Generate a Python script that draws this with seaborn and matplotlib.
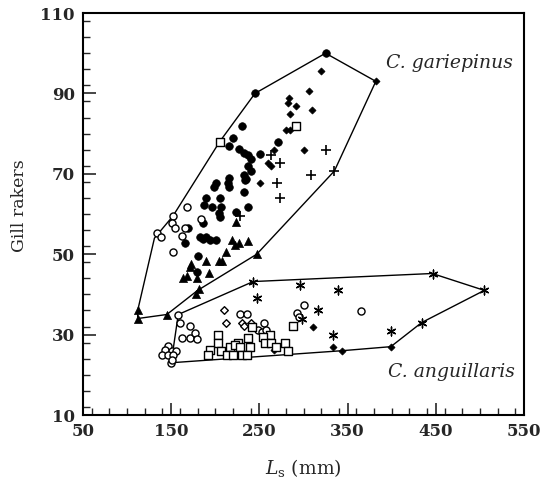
import numpy as np
import pandas as pd
import matplotlib
matplotlib.use("Agg")
import matplotlib.pyplot as plt
from matplotlib.ticker import MultipleLocator
import seaborn as sns

# ---------------- data (standard length mm, gill rakers) ----------------
# filled circles
fc_x = [325, 245, 230, 220, 215, 271, 227, 232, 237.5, 240.5, 251, 237.5, 240, 232, 235,
        233.7, 215.6, 214, 216, 201, 198, 190, 205, 187, 196, 207, 204, 205, 237.5, 224,
        186.4, 168.7, 182.7, 186.4, 190, 194, 201, 165.7, 180, 179.6, 233]
fc_y = [100, 90, 82, 79, 77, 78, 76.1, 75.1, 74.7, 73.8, 74.9, 71.9, 70.8, 69.7, 68.6,
        68.5, 68.9, 67.6, 66.8, 67.8, 66.8, 64.1, 64, 62.2, 61.8, 61.8, 60.2, 59.3, 61.8, 60.6,
        57.7, 56.4, 54.3, 53.7, 54.2, 53.5, 53.5, 52.7, 49.6, 45.6, 65.5]
# open circles
oc_x = [133.5, 139, 167.5, 151.7, 150.6, 154.4, 165.7, 162, 184, 152.4,
        150, 158, 160, 171.3, 162, 171.3, 177, 179, 146.7, 143, 150.5, 155.5, 139.3, 146.7,
        152.4, 150.5, 301, 293, 295, 365, 228, 235.6, 255.6, 248.8, 252.7, 257.5]
oc_y = [55.4, 54.3, 61.7, 59.5, 57.7, 56.4, 56.4, 54.5, 58.7, 50.5,
        23, 35, 33, 32.2, 29.1, 29.1, 30.3, 28.9, 27.2, 26.2, 26, 26, 24.9, 24.9,
        24.9, 23.8, 37.4, 35.3, 34.4, 35.9, 35.1, 35.1, 33, 31.1, 30.7, 31.1]
# filled diamonds
fd_x = [382, 320, 306, 283, 282, 291, 310, 285, 280, 285, 266, 300, 260, 263, 251,
        266, 311, 334, 344, 399]
fd_y = [93, 95.6, 90.7, 88.8, 87.5, 86.9, 85.9, 84.8, 80.9, 80.9, 75.9, 75.9, 72.6, 71.9, 67.6,
        26.2, 32, 26.8, 26, 27]
# open diamonds
od_x = [210, 212, 230, 232.6, 240, 241.3]
od_y = [36.1, 33, 33, 32.1, 33, 32]
# open squares
sq_x = [205, 291, 242, 288.5, 202.7, 262, 237.5, 254.5, 256.4, 202.7, 226, 262.8, 279,
        239.4, 194, 206, 216.7, 222.4, 228, 268.5, 282, 192, 213, 220.5, 230, 235.6]
sq_y = [78, 82, 32, 32.1, 30, 30, 29.1, 29.3, 28, 28, 28, 28, 28,
        27, 26.2, 26, 26.8, 27.4, 26.8, 26.8, 26, 24.9, 24.9, 24.9, 25, 25]
# filled triangles
tr_x = [224, 218.6, 222.4, 227.3, 237.5, 212, 204.6, 207.7, 189.5, 172.5, 171.3, 193.2,
        163.8, 167.6, 179.6, 247, 181.5, 178.2, 145, 112, 112]
tr_y = [58, 53.5, 52.3, 52.7, 53.3, 50.6, 48.4, 48.4, 48.3, 47.5, 46.7, 45.4,
        44, 44.6, 44.1, 50, 41.3, 40, 35, 34, 36]
# plus signs
pl_x = [335, 325, 263, 273, 269.5, 309, 273, 228]
pl_y = [70.7, 76, 74.7, 72.6, 67.6, 69.7, 64, 59.5]
# asterisks
as_x = [243, 447, 505, 434, 247, 296, 339, 317, 298, 333, 399]
as_y = [43, 45, 41, 33, 39, 42.3, 41.1, 36.1, 33.8, 29.9, 30.9]

# hull outlines
hull_g_x = [112, 112, 131, 152, 205, 245, 325, 382, 335, 247, 180, 145, 112]
hull_g_y = [34, 36, 54, 59.5, 78, 90, 100, 93, 70.7, 50, 41, 35, 34]
hull_a_x = [150, 158, 243, 446, 505, 434, 399, 344, 150]
hull_a_y = [23, 35, 43.2, 45.2, 41, 33, 27, 26, 23]

species = ["C. gariepinus", "C. anguillaris"]
x_ticks = [50, 150, 250, 350, 450, 550]
y_ticks = [10, 30, 50, 70, 90, 110]

# ---------------- plotting ----------------
sns.set_style("ticks")
plt.rcParams["font.family"] = ["DejaVu Serif"]
plt.rcParams["mathtext.fontset"] = "dejavuserif"

fig = plt.figure(figsize=(5.41, 4.80), dpi=100)
ax = fig.add_axes([0.1534, 0.1354, 0.8152, 0.8375])

lw_hull = 1.0
ax.plot(hull_g_x, hull_g_y, color="black", lw=lw_hull, zorder=1)
ax.plot(hull_a_x, hull_a_y, color="black", lw=lw_hull, zorder=1)

def scat(x, y, **kw):
    sns.scatterplot(x=x, y=y, ax=ax, legend=False, zorder=3, **kw)

scat(fc_x, fc_y, marker="o", s=30, color="black", edgecolor="black", linewidth=0.5)
scat(oc_x, oc_y, marker="o", s=26, facecolor="white", edgecolor="black", linewidth=1.0)
scat(fd_x, fd_y, marker="D", s=13, color="black", edgecolor="black", linewidth=0.5)
scat(od_x, od_y, marker="D", s=15, facecolor="white", edgecolor="black", linewidth=1.0)
scat(sq_x, sq_y, marker="s", s=28, facecolor="white", edgecolor="black", linewidth=1.0)
scat(tr_x, tr_y, marker="^", s=34, color="black", edgecolor="black", linewidth=0.5)
scat(pl_x, pl_y, marker="+", s=45, color="black", linewidth=1.2)
scat(as_x, as_y, marker=(6, 2, 0), s=40, color="black", linewidth=1.0)

ax.set_xlim(50, 550)
ax.set_ylim(10, 110)
ax.set_xticks(x_ticks)
ax.set_yticks(y_ticks)
ax.xaxis.set_minor_locator(MultipleLocator(20))
ax.yaxis.set_minor_locator(MultipleLocator(4))
ax.tick_params(which="major", direction="in", length=9, width=1.2,
               labelsize=12, pad=6, top=False, right=False)
ax.tick_params(which="minor", direction="in", length=5, width=1.0,
               top=False, right=False)
for lab in ax.get_xticklabels() + ax.get_yticklabels():
    lab.set_fontweight("bold")
for sp in ax.spines.values():
    sp.set_visible(True)
    sp.set_linewidth(1.5)
    sp.set_color("black")

ax.set_ylabel("Gill rakers", fontsize=12.5)
ax.yaxis.set_label_coords(-0.125, 0.52)
ax.set_xlabel(r"$L_{\mathrm{s}}$ (mm)", fontsize=13.5)
ax.xaxis.set_label_coords(0.5, -0.105)

ax.text(537, 97.6, species[0], style="italic", fontsize=13.5,
        ha="right", va="center")
ax.text(540, 20.7, species[1], style="italic", fontsize=13.5,
        ha="right", va="center")

fig.savefig("out.png", dpi=100, facecolor="white")
